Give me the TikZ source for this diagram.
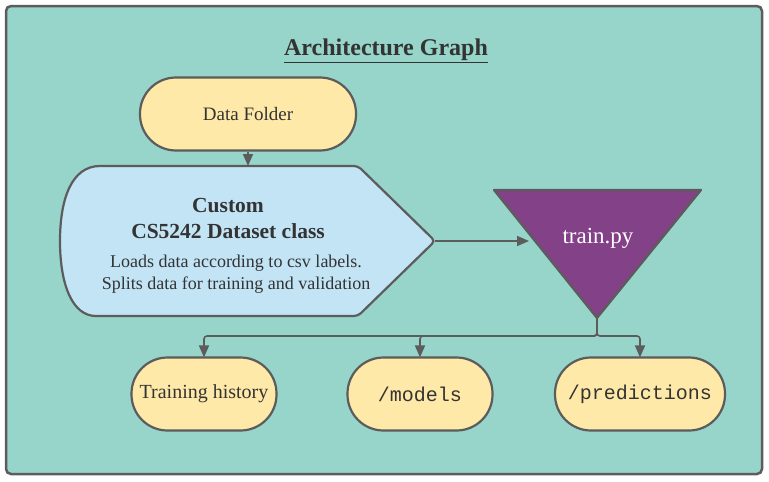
\documentclass[tikz,border=0pt]{standalone}
\usepackage{fontspec}
\setmainfont{Liberation Serif}
\setmonofont{Liberation Mono}
\usepackage{xcolor}
\usetikzlibrary{arrows.meta}
\definecolor{bgteal}{HTML}{97D4C9}
\definecolor{edgegray}{HTML}{5C5C5C}
\definecolor{foldyellow}{HTML}{FFE9A8}
\definecolor{dsblue}{HTML}{C2E4F5}
\definecolor{trainpurple}{HTML}{834187}
\definecolor{textdark}{HTML}{333333}

\tikzset{
  folder/.style={draw=edgegray, line width=2.2pt, fill=foldyellow, rounded corners=36pt,
    minimum height=73pt, text=textdark, inner sep=0pt},
  conn/.style={edgegray, line width=1.6pt, -{Triangle[length=12pt,width=10pt]}},
}

\begin{document}
\begin{tikzpicture}[x=1pt,y=-1pt]
\useasboundingbox (0,0) rectangle (769,482);
\filldraw[fill=bgteal, draw=edgegray, line width=2.5pt, rounded corners=5pt] (6,6) rectangle (762,474);
\node[text=textdark, font=\fontsize{24}{28}\selectfont\bfseries] (title) at (386,51) {\underline{Architecture Graph}};

\node[folder, minimum width=216pt, font=\fontsize{19}{22}\selectfont] (data) at (248,114) {Data Folder};

% dataset class shape
\filldraw[fill=dsblue, draw=edgegray, line width=2.2pt, rounded corners=4pt]
  (100,166) -- (358,166) -- (435,241) -- (358,316) -- (100,316)
  [sharp corners] .. controls (72,316) and (60,284) .. (60,241)
  .. controls (60,198) and (72,166) .. (100,166) -- cycle;
\coordinate (dstop) at (248,166);
\coordinate (dstip) at (435,241);
\node[text=textdark, align=center, font=\fontsize{21.5}{26}\selectfont\bfseries] (ds) at (228,218) {Custom\\CS5242 Dataset class};
\node[text=textdark, align=center, font=\fontsize{18}{22}\selectfont] (dsinfo) at (236,274) {Loads data according to csv labels.\\Splits data for training and validation};

% train.py
\filldraw[fill=trainpurple, draw=edgegray, line width=2.2pt, line join=round]
  (494,190) -- (701,190) -- (597,318) -- cycle;
\coordinate (trleft) at (529,241);
\coordinate (trbot) at (597,318);
\coordinate (split) at (597,336);
\node[text=white, font=\fontsize{23}{26}\selectfont] (train) at (598,238) {train.py};

% outputs
\node[folder, minimum width=145pt, font=\fontsize{20}{22}\selectfont] (hist) at (204,394) {Training history};
\node[folder, minimum width=145pt, font=\ttfamily\fontsize{20}{22}\selectfont] (models) at (420,394) {/models};
\node[folder, minimum width=170pt, font=\ttfamily\fontsize{20}{22}\selectfont] (preds) at (640,394) {/predictions};

\draw[conn] (data) -- (dstop);
\draw[conn] (dstip) -- (trleft);
\draw[conn, rounded corners=3pt] (trbot) -- (split) -| ([yshift=-1pt]hist.north);
\draw[conn, rounded corners=3pt] (trbot) -- (split) -| ([yshift=-1pt]models.north);
\draw[conn, rounded corners=3pt] (trbot) -- (split) -| ([yshift=-1pt]preds.north);
\end{tikzpicture}
\end{document}
